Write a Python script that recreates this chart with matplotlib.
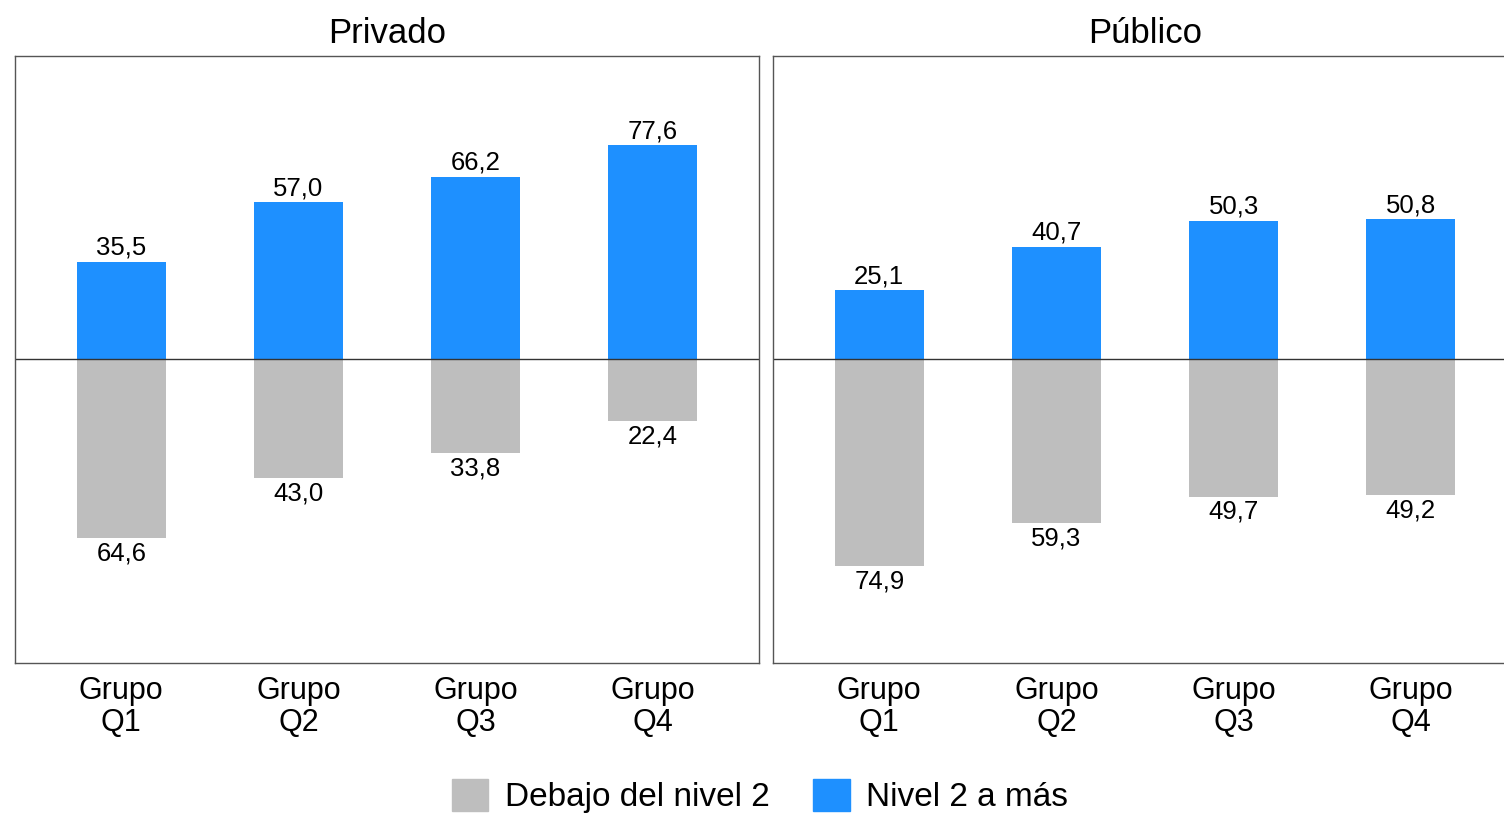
import matplotlib
matplotlib.use("Agg")
import matplotlib.pyplot as plt
from matplotlib.patches import Patch

plt.rcParams['font.family'] = ['Liberation Sans', 'DejaVu Sans']

groups = ["Grupo\nQ1", "Grupo\nQ2", "Grupo\nQ3", "Grupo\nQ4"]
panels = ["Privado", "Público"]
nivel2 = {"Privado": [35.5, 57.0, 66.2, 77.6],
          "Público": [25.1, 40.7, 50.3, 50.8]}
debajo = {"Privado": [64.6, 43.0, 33.8, 22.4],
          "Público": [74.9, 59.3, 49.7, 49.2]}

blue = "#1E90FF"
grey = "#BEBEBE"

W, H = 1504, 814
fig = plt.figure(figsize=(W / 100, H / 100), dpi=100)

lefts = [15, 773]
for left, name in zip(lefts, panels):
    ax = fig.add_axes([left / W, (H - 663) / H, 744 / W, 607 / H])
    x = list(range(1, len(groups) + 1))
    pos = nivel2[name]
    neg = [-v for v in debajo[name]]
    ax.bar(x, pos, width=0.5, color=blue)
    ax.bar(x, neg, width=0.5, color=grey)
    ax.axhline(0, color="#333333", lw=1)
    for xi, v in zip(x, pos):
        ax.text(xi, v + 0.8, f"{v:.1f}".replace(".", ","), ha="center", va="bottom", fontsize=18.5)
    for xi, v in zip(x, debajo[name]):
        ax.text(xi, -v - 1.2, f"{v:.1f}".replace(".", ","), ha="center", va="top", fontsize=18.5)
    ax.set_xlim(0.4, 4.6)
    ax.set_ylim(-110, 110)
    ax.set_xticks(x)
    ax.set_xticklabels(groups, fontsize=22, linespacing=1.12)
    ax.tick_params(axis="x", length=0, pad=9)
    ax.set_yticks([])
    for s in ax.spines.values():
        s.set_color("#555555")
        s.set_linewidth(1)
    ax.set_title(name, fontsize=25, pad=9)

handles = [Patch(color=grey, label="Debajo del nivel 2"),
           Patch(color=blue, label="Nivel 2 a más")]
fig.legend(handles=handles, loc="center", bbox_to_anchor=(760 / W, 1 - 796 / H),
           ncol=2, frameon=False, fontsize=24, handlelength=1.1, handleheight=1.1,
           columnspacing=1.3, handletextpad=0.5, borderpad=0)

fig.savefig("out.png", dpi=100)
